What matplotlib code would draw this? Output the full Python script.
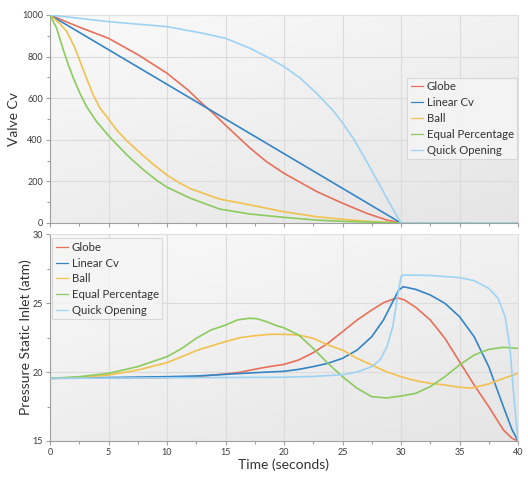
import numpy as np
import matplotlib
matplotlib.use("Agg")
import matplotlib.pyplot as plt
from matplotlib.ticker import MultipleLocator
from matplotlib.colors import LinearSegmentedColormap

plt.rcParams['font.family'] = ['Lato', 'DejaVu Sans']

series = ["Globe", "Linear Cv", "Ball", "Equal Percentage", "Quick Opening"]
colors = ["#E8705A", "#3584C6", "#F2C14E", "#8CCB5E", "#9DD3F4"]

# Top panel: Valve Cv vs time (seconds)
t_globe = [0, 2.4, 5, 7.55, 10, 11.8, 12.8, 13.9, 15, 17.1, 18.5, 20, 22.8, 25, 27.1, 28.8, 30, 40]
cv_globe = [1000, 944, 888, 808, 720, 639, 585, 530, 470, 360, 295, 239, 151, 95, 46, 14, 0, 0]
t_lin = [0, 30, 40]
cv_lin = [1000, 0, 0]
t_ball = [0, 0.85, 1.42, 1.71, 2.14, 2.56, 3.13, 3.7, 4.27, 5, 5.7, 6.55, 7.55, 8.7, 10, 11, 12,
          14.5, 17.1, 20, 22.8, 25, 27.1, 30, 40]
cv_ball = [1000, 958, 922, 890, 840, 778, 695, 615, 553, 500, 447, 396, 345, 288, 230, 195, 165,
           115, 87, 54, 30, 18, 8, 0, 0]
t_eq = [0, 0.57, 1.14, 1.57, 2.0, 2.56, 3.13, 3.99, 5, 5.7, 6.5, 7, 8, 9.12, 10, 12, 14.5,
        17.1, 20, 22.8, 25, 30, 40]
cv_eq = [1000, 936, 832, 760, 696, 623, 559, 487, 420, 378, 332, 305, 255, 205, 172, 119, 67,
         43, 27, 14, 8, 0, 0]
t_quick = [0, 5, 10, 12.8, 15, 17.1, 18.5, 20, 21.4, 22.8, 24.2, 25, 26, 27.1, 28.2, 29.1, 30, 40]
cv_quick = [1000, 968, 944, 915, 888, 840, 800, 752, 696, 623, 540, 482, 400, 292, 180, 88, 0, 0]

# Bottom panel: Pressure Static Inlet (atm) vs time (seconds)
tp_globe = [0, 10, 13, 15, 16.25, 17.5, 18.75, 20, 21.25, 22.5, 23.75, 25, 26.25, 27.5, 28.5, 29.3,
            29.75, 30.3, 31.25, 32.5, 33.75, 35, 36.25, 37.5, 38.75, 39.5, 40]
p_globe = [19.54, 19.6, 19.7, 19.86, 19.98, 20.2, 20.39, 20.55, 20.87, 21.4, 22.08, 22.92, 23.77, 24.49,
           25.02, 25.27, 25.36, 25.22, 24.69, 23.77, 22.44, 20.75, 19.06, 17.49, 15.8, 15.19, 15.0]
tp_lin = [0, 10, 12.5, 15, 17.5, 20, 21.25, 22.5, 23.75, 25, 26.25, 27.5, 28.5, 29.3, 29.8, 30.2,
          31.25, 32.5, 33.75, 35, 36.25, 37.5, 38.75, 39.5, 40]
p_lin = [19.54, 19.66, 19.71, 19.83, 19.95, 20.05, 20.19, 20.39, 20.63, 20.99, 21.59, 22.56, 23.77,
         25.1, 25.94, 26.18, 25.99, 25.58, 24.98, 24.01, 22.56, 20.39, 17.49, 15.8, 15.0]
tp_ball = [0, 2.5, 5, 7.5, 10, 11.25, 12.5, 13.75, 15, 16.25, 17.5, 18.75, 20, 21.25, 22.5, 23.75, 25,
           26.25, 27.5, 28.75, 30, 31.25, 32.5, 33.75, 35, 36, 37.5, 38.75, 40]
p_ball = [19.54, 19.6, 19.78, 20.14, 20.68, 21.1, 21.55, 21.88, 22.2, 22.49, 22.63, 22.73, 22.73, 22.68,
          22.44, 21.96, 21.59, 20.99, 20.51, 20.02, 19.66, 19.37, 19.18, 19.06, 18.89, 18.84, 19.13,
          19.54, 19.9]
tp_eq = [0, 2.5, 5, 7.5, 10, 11.25, 12.5, 13.75, 15, 16, 17, 17.7, 18.5, 19.4, 20, 21.25, 22.5, 23.75,
         25, 26.25, 27.5, 28.75, 30, 31.25, 32.5, 33.75, 35, 36.25, 37.5, 38.75, 40]
p_eq = [19.54, 19.66, 19.9, 20.39, 21.11, 21.7, 22.44, 23.04, 23.4, 23.77, 23.89, 23.86, 23.65, 23.35,
        23.2, 22.68, 21.71, 20.63, 19.66, 18.82, 18.21, 18.12, 18.26, 18.45, 18.94, 19.66, 20.51,
        21.23, 21.64, 21.79, 21.71]
tp_quick = [0, 20, 22.5, 25, 26.25, 27.5, 28.2, 28.8, 29.3, 29.7, 30.0, 30.2, 32.5, 35, 36.25, 37.5,
            38.3, 38.9, 39.3, 39.6, 40]
p_quick = [19.54, 19.62, 19.68, 19.8, 20.0, 20.39, 20.87, 21.84, 23.29, 25.46, 26.91, 27.03, 27.0,
           26.84, 26.62, 26.06, 25.34, 24.01, 21.84, 18.7, 15.0]

top_data = [(t_globe, cv_globe), (t_lin, cv_lin), (t_ball, cv_ball), (t_eq, cv_eq), (t_quick, cv_quick)]
bot_data = [(tp_globe, p_globe), (tp_lin, p_lin), (tp_ball, p_ball), (tp_eq, p_eq), (tp_quick, p_quick)]

fig = plt.figure(figsize=(5.28, 4.82), dpi=100)
ax1 = fig.add_axes([50/528, 1-223/482, 468/528, 208/482])
ax2 = fig.add_axes([50/528, 1-441/482, 468/528, 207/482])

gx, gy = np.meshgrid(np.linspace(0, 1, 200), np.linspace(0, 1, 200))
grad = 0.6 * gy + 0.4 * gx
cmap = LinearSegmentedColormap.from_list("bg", ["#fafafa", "#e5e5e5"])

for ax in (ax1, ax2):
    ax.imshow(grad, cmap=cmap, extent=[0, 1, 0, 1], transform=ax.transAxes,
              aspect="auto", zorder=0, origin="upper")
    ax.set_xlim(0, 40)
    ax.xaxis.set_major_locator(MultipleLocator(5))
    ax.xaxis.set_minor_locator(MultipleLocator(2.5))
    ax.grid(True, which="major", color="#dcdcdc", linewidth=0.8, zorder=1)
    for s in ("top", "right"):
        ax.spines[s].set_color("#e0e0e0")
    for s in ("left", "bottom"):
        ax.spines[s].set_color("#a0a0a0")
    ax.tick_params(which="both", direction="out", colors="#a0a0a0",
                   labelcolor="#3a3a3a", labelsize=6.5, length=3, width=0.8, pad=2)
    ax.tick_params(which="minor", length=2)

for (x, y), c, n in zip(top_data, colors, series):
    ax1.plot(x, y, color=c, lw=1.2, label=n, zorder=3)
for (x, y), c, n in zip(bot_data, colors, series):
    ax2.plot(x, y, color=c, lw=1.2, label=n, zorder=3)

ax1.set_ylim(0, 1000)
ax1.yaxis.set_major_locator(MultipleLocator(200))
ax1.yaxis.set_minor_locator(MultipleLocator(100))
ax1.tick_params(axis="x", which="both", labelbottom=False)
ax1.set_ylabel("Valve Cv", fontsize=10, color="#333333")
ax1.yaxis.set_label_coords(-0.064, 0.5)

ax2.set_ylim(15, 30)
ax2.yaxis.set_major_locator(MultipleLocator(5))
ax2.yaxis.set_minor_locator(MultipleLocator(2.5))
ax2.set_ylabel("Pressure Static Inlet (atm)", fontsize=10, color="#333333")
ax2.yaxis.set_label_coords(-0.039, 0.5)
ax2.set_xlabel("Time (seconds)", fontsize=10, color="#333333")
ax2.xaxis.set_label_coords(0.5, -0.082)

leg_kw = dict(fontsize=8.2, handlelength=1.1, handletextpad=0.3, borderpad=0.3,
              labelspacing=0.42, fancybox=False, framealpha=0.85, edgecolor="#d4d4d4",
              facecolor="#f5f5f5", borderaxespad=0)
l1 = ax1.legend(loc="upper right", bbox_to_anchor=(0.998, 0.697), **leg_kw)
l2 = ax2.legend(loc="upper left", bbox_to_anchor=(0.005, 0.979), **leg_kw)
for l in (l1, l2):
    l.get_frame().set_linewidth(0.8)
    for h in l.get_lines():
        h.set_linewidth(0.9)
    for t in l.get_texts():
        t.set_color("#333333")

fig.savefig("out.png", dpi=100)
